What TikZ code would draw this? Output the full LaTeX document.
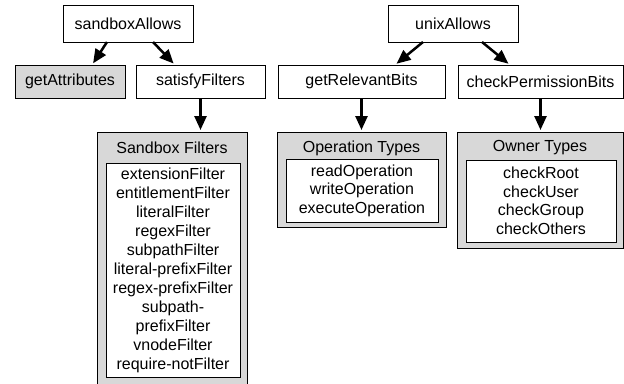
\documentclass[tikz,border=0pt]{standalone}
\usepackage{fontspec}
\setmainfont{Liberation Sans}
\usetikzlibrary{arrows.meta}
\definecolor{boxgray}{RGB}{216,216,216}
\begin{document}
\begin{tikzpicture}[x=1pt,y=-1pt,
  every node/.style={font=\fontsize{16}{18.5}\selectfont, inner sep=0pt, outer sep=0pt},
  box/.style={draw, line width=1pt, fill=white},
  graybox/.style={box, fill=boxgray},
  plain/.style={},
  arr/.style={line width=2.5pt, shorten >=2pt, -{Triangle[length=14pt,width=12pt]}}
]
\useasboundingbox (0,0) rectangle (624,383);

% top level
\node[box, minimum width=130pt, minimum height=37pt] (sa) at (128,23.5) {sandboxAllows};
\node[box, minimum width=130pt, minimum height=37pt] (ua) at (453,23.5) {unixAllows};

% second level
\node[graybox, minimum width=110pt, minimum height=33pt] (ga) at (70,81.5) {getAttributes};
\node[box, minimum width=129pt, minimum height=33pt] (sf) at (200.5,81.5) {satisfyFilters};
\node[box, minimum width=167pt, minimum height=33pt] (rb) at (361.5,81.5) {getRelevantBits};
\node[box, minimum width=165pt, minimum height=33pt] (cp) at (540.5,81.5) {checkPermissionBits};

% Sandbox Filters
\node[graybox, minimum width=150pt, minimum height=263pt] (sfo) at (172,263.5) {};
\node[plain] (sft) at (172,148) {Sandbox Filters};
\node[box, minimum width=134pt, minimum height=214pt, align=center, font=\fontsize{16}{19}\selectfont] (sfi) at (173,270)
  {extensionFilter\\entitlementFilter\\literalFilter\\regexFilter\\subpathFilter\\literal-prefixFilter\\regex-prefixFilter\\subpath-\\prefixFilter\\vnodeFilter\\require-notFilter};

% Operation Types
\node[graybox, minimum width=169pt, minimum height=95pt] (oto) at (361.5,179.5) {};
\node[plain] (ott) at (361.5,148) {Operation Types};
\node[box, minimum width=152pt, minimum height=63pt, align=center] (oti) at (362,190.5)
  {readOperation\\writeOperation\\executeOperation};

% Owner Types
\node[graybox, minimum width=166pt, minimum height=116pt] (owo) at (540,190) {};
\node[plain] (owt) at (540,148) {Owner Types};
\node[box, minimum width=150pt, minimum height=82pt, align=center] (owi) at (541,201)
  {checkRoot\\checkUser\\checkGroup\\checkOthers};

% connectors
\draw[arr] ([xshift=-21pt]sa.south) -- ([xshift=22pt]ga.north);
\draw[arr] ([xshift=25pt]sa.south) -- ([xshift=-25.5pt]sf.north);
\draw[arr] ([xshift=-30pt]ua.south) -- ([xshift=33.5pt]rb.north);
\draw[arr] ([xshift=29pt]ua.south) -- ([xshift=-30.5pt]cp.north);
\draw[arr] (sf.south) -- (sf.south |- sfo.north);
\draw[arr] (rb.south) -- (rb.south |- oto.north);
\draw[arr] (cp.south) -- (cp.south |- owo.north);
\end{tikzpicture}
\end{document}
